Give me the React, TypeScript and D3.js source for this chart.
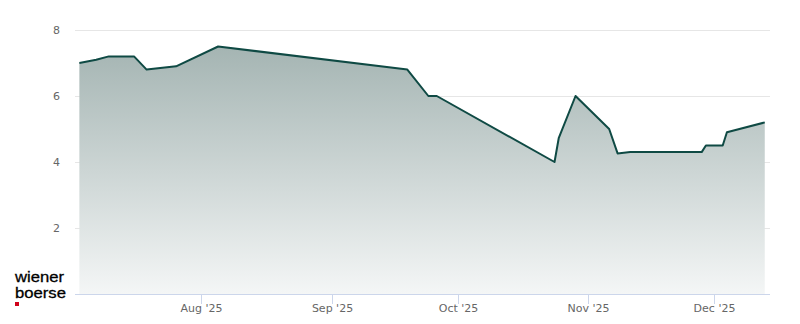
import React from "react";
import * as d3 from "d3";

const dates: string[] = [
  "2025-07-03", "2025-07-07", "2025-07-10", "2025-07-16", "2025-07-19", "2025-07-26",
  "2025-08-05", "2025-09-19", "2025-09-24", "2025-09-26", "2025-10-24", "2025-10-25",
  "2025-10-29", "2025-11-06", "2025-11-08", "2025-11-11", "2025-11-28", "2025-11-29",
  "2025-12-03", "2025-12-04", "2025-12-13",
];
const values: number[] = [
  7.0, 7.1, 7.2, 7.2, 6.8, 6.9,
  7.5, 6.8, 6.0, 6.0, 4.0, 4.72,
  6.0, 5.0, 4.26, 4.3, 4.3, 4.5,
  4.5, 4.9, 5.2,
];
const yTicks: number[] = [2, 4, 6, 8];
const xTickDates: string[] = ["2025-08-01", "2025-09-01", "2025-10-01", "2025-11-01", "2025-12-01"];
const xTickLabels: string[] = ["Aug '25", "Sep '25", "Oct '25", "Nov '25", "Dec '25"];

const W = 800;
const H = 324;
const left = 75;
const right = 770;
const top = 30;
const bottom = 294;
const font = "'DejaVu Sans', sans-serif";

export default function App() {
  const parse = d3.utcParse("%Y-%m-%d");
  const data = dates.map((d, i) => ({ date: parse(d) as Date, value: values[i] }));
  const aug = parse("2025-08-01") as Date;
  const dec = parse("2025-12-01") as Date;
  const base = d3.scaleUtc().domain([aug, dec]).range([201.3, 714.3]);
  const x = d3.scaleUtc().domain([base.invert(left), base.invert(right)]).range([left, right]);
  const y = d3.scaleLinear().domain([0, 8]).range([bottom, top]);

  const area = d3
    .area<{ date: Date; value: number }>()
    .x((d) => x(d.date))
    .y0(bottom)
    .y1((d) => y(d.value));
  const line = d3
    .line<{ date: Date; value: number }>()
    .x((d) => x(d.date))
    .y((d) => y(d.value));

  return (
    <svg width={W} height={H} style={{ position: "absolute", left: 0, top: 0, background: "#fff" }}>
      <defs>
        <linearGradient id="fillGrad" gradientUnits="userSpaceOnUse" x1="0" y1={top} x2="0" y2={bottom}>
          <stop offset="0" stopColor="#9fb0ae" />
          <stop offset="1" stopColor="#f4f6f6" />
        </linearGradient>
      </defs>
      {yTicks.map((t) => (
        <line key={t} x1={left} x2={right} y1={Math.round(y(t)) + 0.5} y2={Math.round(y(t)) + 0.5} stroke="#e6e6e6" strokeWidth={1} />
      ))}
      <path d={area(data) || ""} fill="url(#fillGrad)" />
      <path d={line(data) || ""} fill="none" stroke="#0f4a44" strokeWidth={2} strokeLinejoin="round" />
      <line x1={left} x2={right} y1={bottom + 0.5} y2={bottom + 0.5} stroke="#ccd6eb" strokeWidth={1} />
      {xTickDates.map((d, i) => {
        const xp = Math.round(x(parse(d) as Date)) + 0.5;
        return (
          <g key={d}>
            <line x1={xp} x2={xp} y1={bottom} y2={bottom + 10} stroke="#ccd6eb" strokeWidth={1} />
            <text x={xp} y={312} textAnchor="middle" fontFamily={font} fontSize={11} fill="#666666">
              {xTickLabels[i]}
            </text>
          </g>
        );
      })}
      {yTicks.map((t) => (
        <text key={t} x={60} y={y(t) + 4} textAnchor="end" fontFamily={font} fontSize={11} fill="#666666">
          {t}
        </text>
      ))}
      <g>
        <text x={15} y={282} fontFamily="'Liberation Sans', Arial, sans-serif" fontSize={15.5} fill="#000" stroke="#000" strokeWidth={0.3} textLength={49} lengthAdjust="spacingAndGlyphs">
          wiener
        </text>
        <text x={15} y={297.5} fontFamily="'Liberation Sans', Arial, sans-serif" fontSize={15.5} fill="#000" stroke="#000" strokeWidth={0.3} textLength={51} lengthAdjust="spacingAndGlyphs">
          boerse
        </text>
        <rect x={15} y={302} width={4} height={4} fill="#d0021b" />
      </g>
    </svg>
  );
}
